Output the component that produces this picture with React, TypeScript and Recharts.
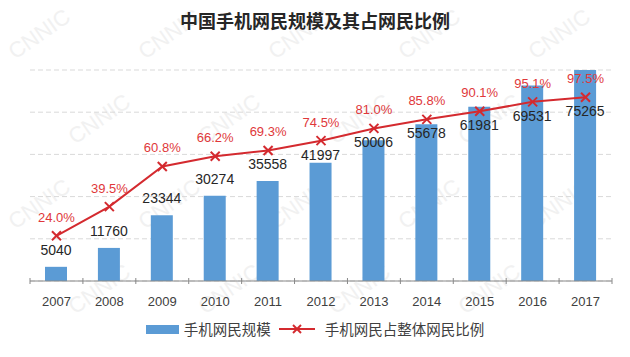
import React from "react";
import { ComposedChart, Bar, Line, XAxis, YAxis, CartesianGrid, LabelList } from "recharts";

const years = ["2007", "2008", "2009", "2010", "2011", "2012", "2013", "2014", "2015", "2016", "2017"];
const users = [5040, 11760, 23344, 30274, 35558, 41997, 50006, 55678, 61981, 69531, 75265];
const shares = [24.0, 39.5, 60.8, 66.2, 69.3, 74.5, 81.0, 85.8, 90.1, 95.1, 97.5];
const userTicks = [0, 15000, 30000, 45000, 60000, 75000];
const USER_MAX = 75000;
const SHARE_MAX = 112;

const data = years.map((year, i) => ({ year, users: users[i], share: shares[i] }));

const BLUE = "#5b9bd5";
const RED = "#d42a2f";
const LABEL_RED = "#e0383a";
const NUM_FONT = "'Liberation Sans', Arial, sans-serif";
const CJK_FONT = "'Noto Sans CJK SC', 'Liberation Sans', sans-serif";

function Cross({ cx, cy, size = 4.5, color = RED }: any) {
  return (
    <g>
      <line x1={cx - size} y1={cy - size} x2={cx + size} y2={cy + size} stroke={color} strokeWidth={2} />
      <line x1={cx - size} y1={cy + size} x2={cx + size} y2={cy - size} stroke={color} strokeWidth={2} />
    </g>
  );
}

function YearTick(props: any) {
  const { x, y, payload, index } = props;
  const half = payload.offset || (props.width || 582) / years.length / 2;
  return (
    <g>
      <line x1={x - half} y1={y - 3} x2={x - half} y2={y + 3} stroke="#888" />
      {index === years.length - 1 && (
        <line x1={x + half} y1={y - 3} x2={x + half} y2={y + 3} stroke="#888" />
      )}
      <text x={x} y={y} dy={25} textAnchor="middle" fontSize={13} fill="#404040" fontFamily={NUM_FONT}>
        {payload.value}
      </text>
    </g>
  );
}

// value label sits above the bar, but drops under the line marker when they would collide
function UserLabel(props: any) {
  const vb = props.viewBox && props.viewBox.width != null ? props.viewBox : props;
  const { x, y, width, height } = vb;
  const { value, index } = props;
  if (value == null || !height) return null;
  const bottom = y + height;
  const plotH = (height * USER_MAX) / value;
  const markerY = bottom - (shares[index] / SHARE_MAX) * plotH;
  const cy = Math.max(y - 17, markerY + 14);
  return (
    <text x={x + width / 2} y={cy} dy={5} textAnchor="middle" fontSize={14} fill="#262626" fontFamily={NUM_FONT}>
      {value}
    </text>
  );
}

function Watermarks() {
  const marks: { x: number; y: number }[] = [];
  for (let r = 0; r < 4; r++) {
    for (let c = 0; c < 5; c++) {
      const x = c * 130 + (r % 2 ? 75 : 15);
      if (x + 70 < 630) marks.push({ x, y: r * 85 + 60 });
    }
  }
  return (
    <svg width={630} height={357} style={{ position: "absolute", left: 0, top: 0 }}>
      {marks.map((m, i) => (
        <text
          key={i}
          x={m.x}
          y={m.y}
          transform={`rotate(-35 ${m.x} ${m.y})`}
          fontSize={22}
          fill="#f1f1f1"
          fontFamily={NUM_FONT}
        >
          CNNIC
        </text>
      ))}
    </svg>
  );
}

export default function App() {
  return (
    <div style={{ position: "absolute", left: 0, top: 0, width: 630, height: 357, background: "#fff", overflow: "hidden" }}>
      <Watermarks />
      <div
        style={{
          position: "absolute",
          top: 7,
          left: 0,
          width: 630,
          textAlign: "center",
          fontFamily: CJK_FONT,
          fontWeight: "bold",
          fontSize: 18,
          lineHeight: "26px",
          color: "#262626",
        }}
      >
        中国手机网民规模及其占网民比例
      </div>
      <div style={{ position: "absolute", left: 0, top: 0 }}>
        <ComposedChart width={630} height={357} data={data} margin={{ top: 70, right: 18, left: 30, bottom: 46 }}>
          <CartesianGrid yAxisId="users" vertical={false} strokeDasharray="5 3" stroke="#d9d9d9" />
          <XAxis
            dataKey="year"
            axisLine={{ stroke: "#888" }}
            tickLine={false}
            tickSize={0}
            tickMargin={0}
            tick={<YearTick />}
            interval={0}
            height={30}
          />
          <YAxis yAxisId="users" hide domain={[0, USER_MAX]} ticks={userTicks} allowDataOverflow />
          <YAxis yAxisId="share" hide orientation="right" domain={[0, SHARE_MAX]} />
          <Bar yAxisId="users" dataKey="users" fill={BLUE} barSize={22} isAnimationActive={false}>
            <LabelList dataKey="users" content={<UserLabel />} />
          </Bar>
          <Line
            yAxisId="share"
            dataKey="share"
            type="linear"
            stroke={RED}
            strokeWidth={2}
            dot={(p: any) => <Cross key={p.index} cx={p.cx} cy={p.cy} />}
            activeDot={false}
            isAnimationActive={false}
          >
            <LabelList
              dataKey="share"
              position="top"
              offset={14}
              fill={LABEL_RED}
              fontSize={13}
              fontFamily={NUM_FONT}
              formatter={(v: any) => `${Number(v).toFixed(1)}%`}
            />
          </Line>
        </ComposedChart>
      </div>
      <div
        style={{
          position: "absolute",
          top: 319,
          left: 0,
          width: 630,
          display: "flex",
          justifyContent: "center",
          alignItems: "center",
          fontFamily: CJK_FONT,
          fontSize: 14.5,
          color: "#404040",
          lineHeight: "20px",
        }}
      >
        <span style={{ display: "inline-block", width: 33, height: 9, background: BLUE, marginRight: 5 }} />
        <span>手机网民规模</span>
        <svg width={36} height={12} style={{ marginLeft: 8, marginRight: 10 }}>
          <line x1={0} y1={6} x2={36} y2={6} stroke={RED} strokeWidth={2} />
          <Cross cx={18} cy={6} size={4} />
        </svg>
        <span>手机网民占整体网民比例</span>
      </div>
    </div>
  );
}
